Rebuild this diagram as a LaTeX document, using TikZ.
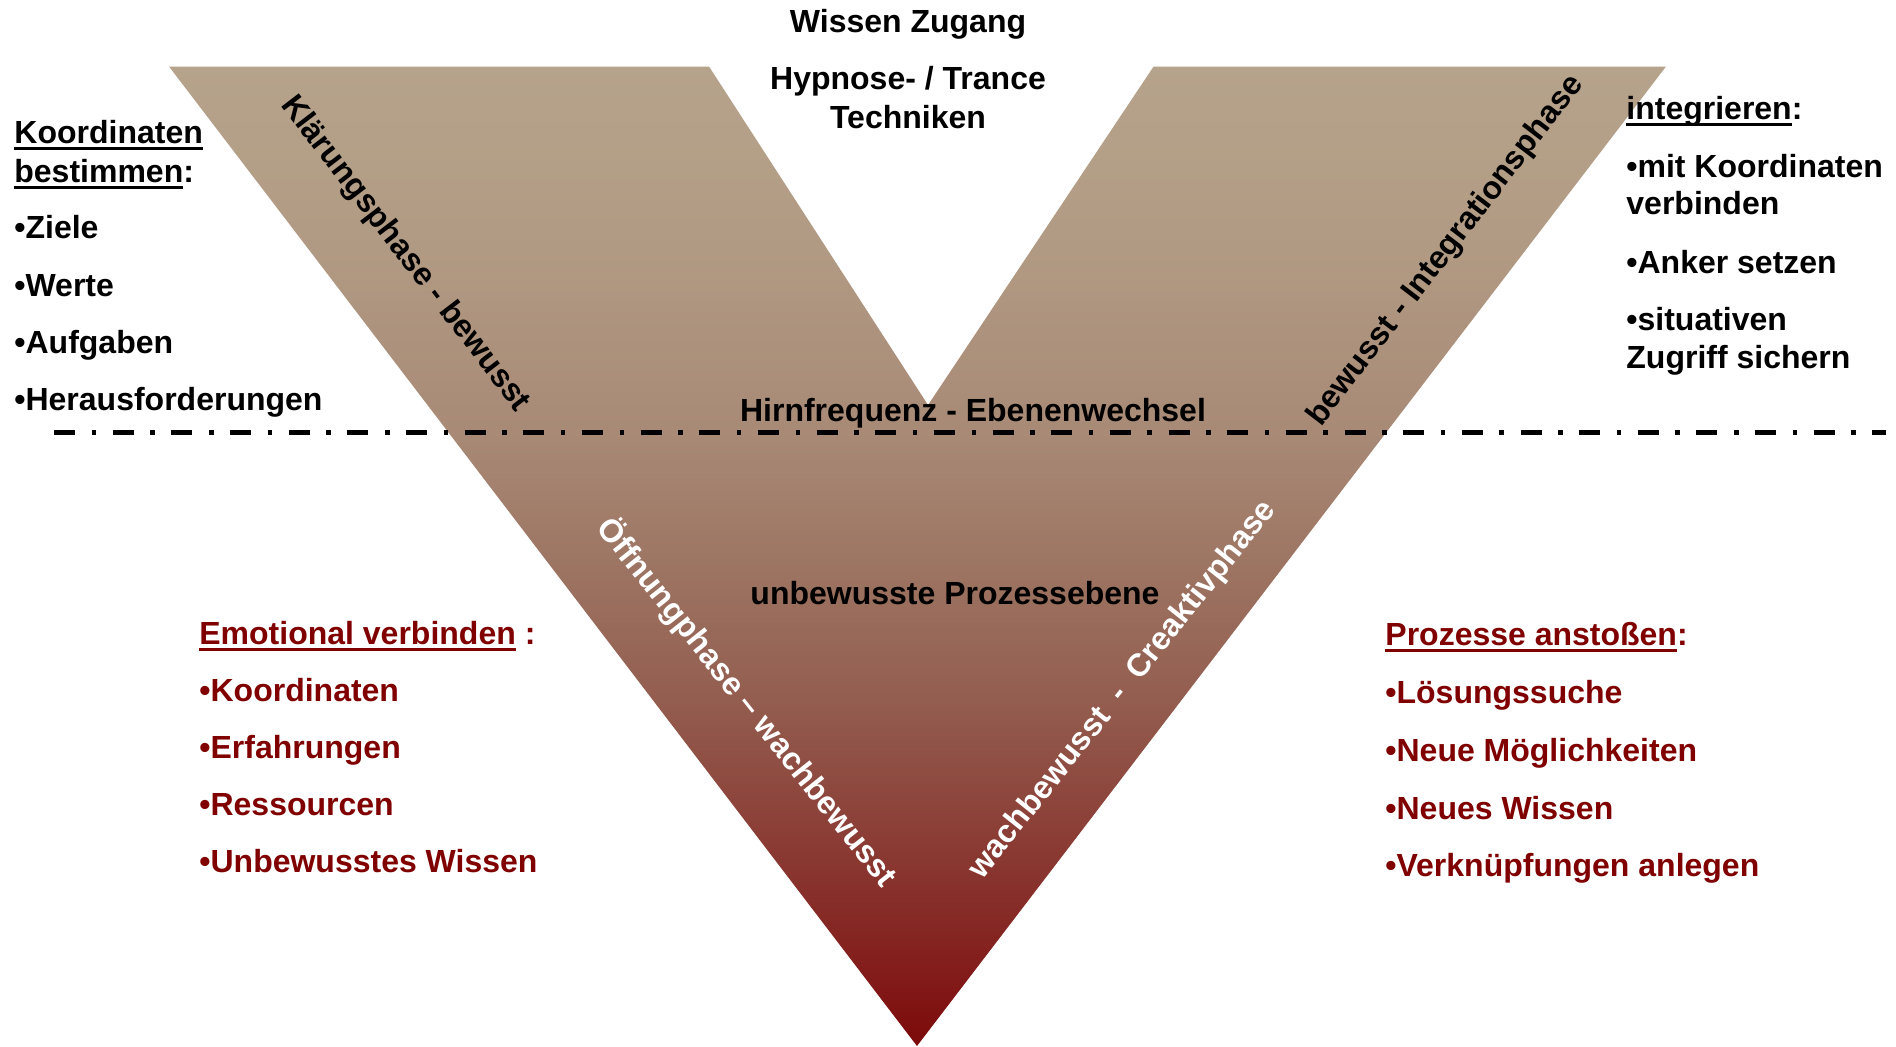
\documentclass[tikz,border=0pt]{standalone}
\usepackage{fontspec}
\setmainfont{Liberation Sans}
\newsavebox{\ulbbox}
\newcommand{\ulbox}[1]{\sbox{\ulbbox}{#1}\rlap{\rule[-3.6pt]{\wd\ulbbox}{1.7pt}}\usebox{\ulbbox}}
\definecolor{darkred}{RGB}{128,0,0}
\definecolor{s0}{HTML}{7C0A0A}
\definecolor{s1}{HTML}{831F1D}
\definecolor{s2}{HTML}{8A3A33}
\definecolor{s3}{HTML}{935D4F}
\definecolor{s4}{HTML}{9E7765}
\definecolor{s5}{HTML}{A88A76}
\definecolor{s6}{HTML}{B19A83}
\definecolor{s7}{HTML}{B6A38B}
\pgfdeclareverticalshading{vshade}{100bp}{color(0bp)=(s0); color(25bp)=(s0); color(29.39bp)=(s1); color(35bp)=(s2); color(42.66bp)=(s3); color(50.32bp)=(s4); color(56.34bp)=(s5); color(65.63bp)=(s6); color(75bp)=(s7); color(100bp)=(s7)}
\begin{document}
\begin{tikzpicture}[x=0.5pt,y=-0.5pt,
  txt/.style={font=\fontsize{16pt}{19.5pt}\selectfont\bfseries, inner sep=0pt, anchor=base west},
  ctxt/.style={txt, anchor=base},
  rlab/.style={font=\fontsize{16pt}{19.5pt}\selectfont\bfseries, inner sep=0pt, anchor=center},
  redtxt/.style={txt, text=darkred}]
\useasboundingbox (0,0) rectangle (1896,1046);
\fill[white] (0,0) rectangle (1896,1046);

% V shape
\path[shading=vshade] (169,66.5) -- (709,66.5) -- (928,405) -- (1153.6,66.5) -- (1666,66.5) -- (917,1046) -- cycle;

% dash-dot separator
\coordinate (dl) at (54,432.5);
\coordinate (dr) at (1886,432.5);
\draw[line width=2.5pt, line cap=butt, dash pattern=on 10.5pt off 8.3pt on 2.3pt off 8.23pt] (dl) -- (dr);

% top centre
\node[ctxt] (wz) at (908,32) {Wissen Zugang};
\node[ctxt] (hyp1) at (908,89) {Hypnose- / Trance};
\node[ctxt] (hyp2) at (908,128) {Techniken};
\node[ctxt] (hirn) at (973,421) {Hirnfrequenz - Ebenenwechsel};
\node[ctxt] (unb) at (955,604) {unbewusste Prozessebene};

% rotated phase labels
\node[rlab, rotate=-52.5] (klar) at (405,254) {Klärungsphase - bewusst};
\node[rlab, rotate=52.5] (integ) at (1446,251) {bewusst - Integrationsphase};
\node[rlab, text=white, rotate=-51.5] (oeff) at (747,702) {Öffnungphase – wachbewusst};
\node[rlab, text=white, rotate=51.5] (creak) at (1123,690) {wachbewusst\ \ -\ \ Creaktivphase};

% left top list
\node[txt] (k1) at (14,143) {\ulbox{Koordinaten}};
\node[txt] (k2) at (14,182) {\ulbox{bestimmen}:};
\node[txt] (k3) at (14,238) {•Ziele};
\node[txt] (k4) at (14,296) {•Werte};
\node[txt] (k5) at (14,353) {•Aufgaben};
\node[txt] (k6) at (14,410) {•Herausforderungen};

% right top list
\node[txt] (i1) at (1626,119) {\ulbox{integrieren}:};
\node[txt] (i2) at (1626,177) {•mit Koordinaten};
\node[txt] (i3) at (1626,214) {verbinden};
\node[txt] (i4) at (1626,273) {•Anker setzen};
\node[txt] (i5) at (1626,330) {•situativen};
\node[txt] (i6) at (1626,368) {Zugriff sichern};

% left bottom list
\node[redtxt] (e1) at (199,644) {\ulbox{Emotional verbinden} :};
\node[redtxt] (e2) at (199,701) {•Koordinaten};
\node[redtxt] (e3) at (199,758) {•Erfahrungen};
\node[redtxt] (e4) at (199,815) {•Ressourcen};
\node[redtxt] (e5) at (199,872) {•Unbewusstes Wissen};

% right bottom list
\node[redtxt] (p1) at (1385,645) {\ulbox{Prozesse anstoßen}:};
\node[redtxt] (p2) at (1385,703) {•Lösungssuche};
\node[redtxt] (p3) at (1385,761) {•Neue Möglichkeiten};
\node[redtxt] (p4) at (1385,819) {•Neues Wissen};
\node[redtxt] (p5) at (1385,876) {•Verknüpfungen anlegen};
\end{tikzpicture}
\end{document}
